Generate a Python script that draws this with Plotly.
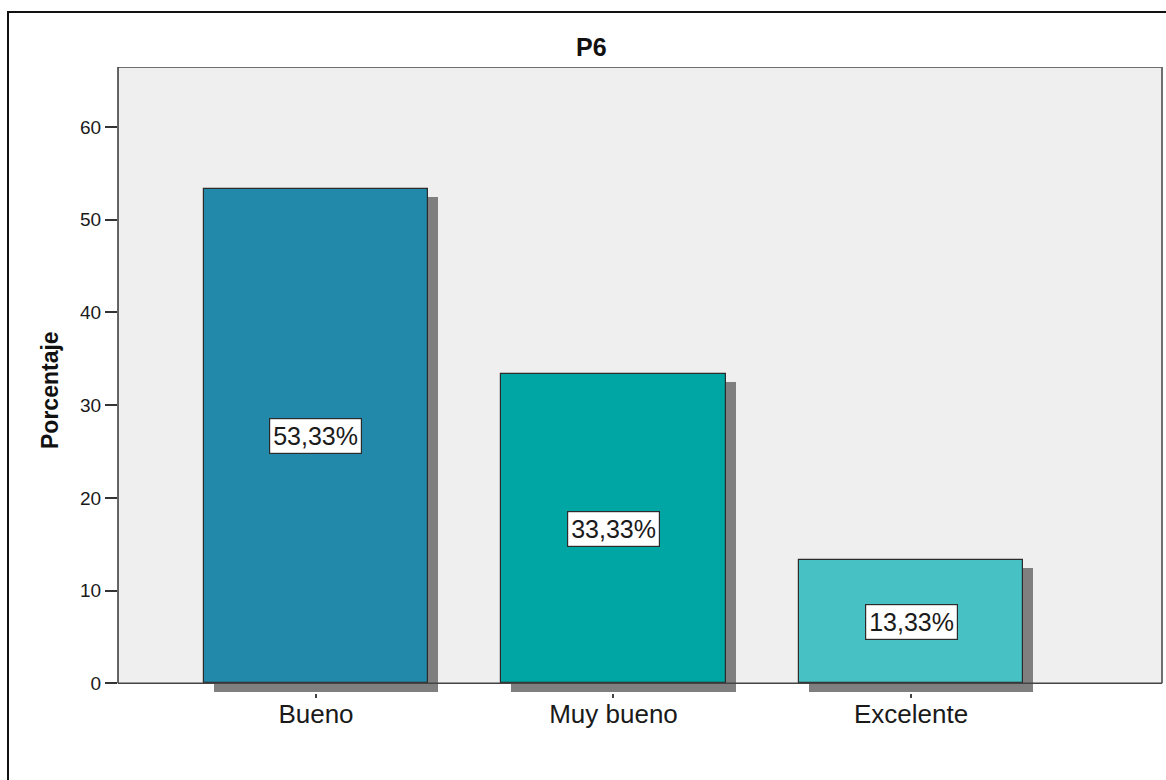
import plotly.graph_objects as go

# Survey question P6: distribution of answers (percent)
categories = ["Bueno", "Muy bueno", "Excelente"]
percentages = [53.33, 33.33, 13.33]
bar_colors = ["#2389AA", "#00A6A4", "#47C1C4"]
y_tick_values = [0, 10, 20, 30, 40, 50, 60]

W, H = 1166, 780
L, R, T, B = 118, 4, 67, 87
plot_w = W - L - R
plot_h = H - T - B

Y_TOP = 66.48
Y_BOTTOM = -1.046
px_per_unit = plot_h / (Y_TOP - Y_BOTTOM)

X_RANGE = [-0.6655, 2.8437]
px_per_cat = plot_w / (X_RANGE[1] - X_RANGE[0])
BAR_W = 0.753

# drop shadow offsets (pixels converted to data units)
shadow_dx = 10 / px_per_cat
shadow_dy = 8 / px_per_unit
shadow_base = -0.97

xs = list(range(len(categories)))
FONT = "Liberation Sans, Arial, sans-serif"

fig = go.Figure()

fig.add_trace(go.Bar(
    x=[x + shadow_dx for x in xs],
    y=[p - shadow_dy - shadow_base for p in percentages],
    base=[shadow_base] * len(xs),
    width=BAR_W,
    marker=dict(color="#7f7f7f", line=dict(width=0)),
    hoverinfo="skip",
    showlegend=False,
))

fig.add_trace(go.Bar(
    x=xs,
    y=percentages,
    width=BAR_W,
    marker=dict(color=bar_colors, line=dict(color="#2b2b2b", width=1.2)),
    showlegend=False,
))


def fmt(v):
    return f"{v:.2f}".replace(".", ",") + "%"


annotations = []
for x, p in zip(xs, percentages):
    annotations.append(dict(
        x=x, y=p / 2, xref="x", yref="y", text=fmt(p), showarrow=False,
        font=dict(family=FONT, size=25, color="#1a1a1a"),
        bgcolor="white", bordercolor="#2b2b2b", borderwidth=1.2, borderpad=3,
    ))


def xp(px):
    return (px - L) / plot_w


def yp(py):
    return (H - B - py) / plot_h


annotations.append(dict(
    x=xp(591), y=yp(47), xref="paper", yref="paper", text="<b>P6</b>",
    showarrow=False, xanchor="center", yanchor="middle",
    font=dict(family=FONT, size=25, color="#111"),
))
annotations.append(dict(
    x=xp(50), y=yp(390), xref="paper", yref="paper", text="<b>Porcentaje</b>",
    showarrow=False, textangle=-90, xanchor="center", yanchor="middle",
    font=dict(family=FONT, size=23, color="#111"),
))

shapes = [
    # plot background above the baseline
    dict(type="rect", xref="paper", yref="y", x0=0, x1=1, y0=0, y1=Y_TOP,
         fillcolor="#EFEFEF", line=dict(width=0), layer="below"),
    # frame: top and right edges
    dict(type="line", xref="paper", yref="y", x0=0, x1=1, y0=Y_TOP, y1=Y_TOP,
         line=dict(color="#6e6e6e", width=2)),
    dict(type="line", xref="paper", yref="y", x0=1, x1=1, y0=0, y1=Y_TOP,
         line=dict(color="#6e6e6e", width=2)),
    # axis lines
    dict(type="line", xref="paper", yref="y", x0=0, x1=0, y0=0, y1=Y_TOP,
         line=dict(color="#333", width=1.5)),
    dict(type="line", xref="paper", yref="y", x0=0, x1=1, y0=0, y1=0,
         line=dict(color="#444", width=1.5)),
    # outer chart border
    dict(type="rect", xref="paper", yref="paper", x0=xp(8), x1=xp(1172),
         y0=yp(790), y1=yp(12), line=dict(color="#111", width=2),
         fillcolor="rgba(0,0,0,0)"),
]

fig.update_layout(
    width=W, height=H,
    margin=dict(l=L, r=R, t=T, b=B),
    paper_bgcolor="white",
    plot_bgcolor="white",
    barmode="overlay",
    bargap=0,
    annotations=annotations,
    shapes=shapes,
    font=dict(family=FONT),
    xaxis=dict(
        range=X_RANGE, tickvals=xs, ticktext=categories,
        showgrid=False, zeroline=False, showline=False,
        ticks="outside", ticklen=4, tickcolor="#444", tickwidth=1.5,
        ticklabelstandoff=-6,
        tickfont=dict(size=26, color="#1a1a1a"),
    ),
    yaxis=dict(
        range=[Y_BOTTOM, Y_TOP], tickvals=y_tick_values,
        showgrid=False, zeroline=False, showline=False,
        ticks="outside", ticklen=12, tickcolor="#333", tickwidth=1.5,
        tickfont=dict(size=19, color="#1a1a1a"),
    ),
)

fig.write_html("out.html")
